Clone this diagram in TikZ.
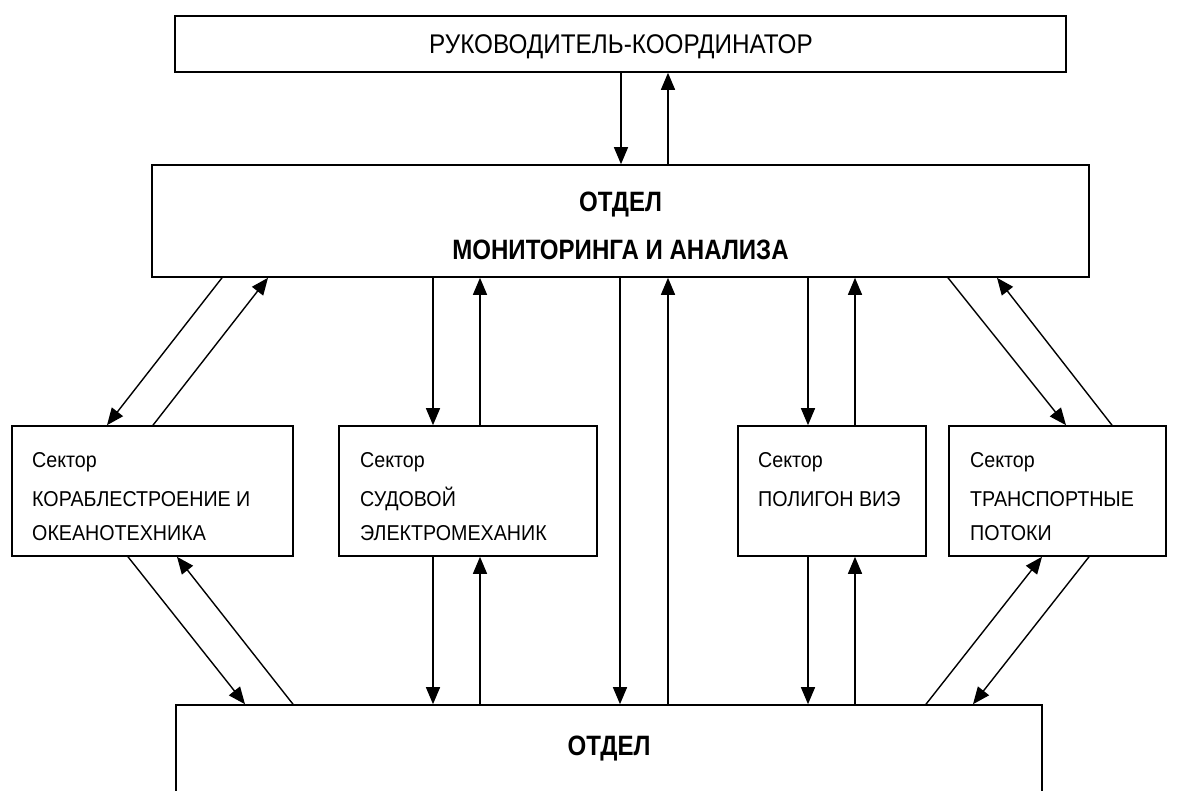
\documentclass[tikz,border=0pt]{standalone}
\usepackage{fontspec}
\setmainfont{Liberation Sans}
\newfontfamily\topf{Liberation Sans}[FakeStretch=0.9]
\newfontfamily\secf{Liberation Sans}[FakeStretch=0.915]
\newfontfamily\midf{Liberation Sans}[FakeStretch=0.86]
\usetikzlibrary{arrows.meta}
\begin{document}
\begin{tikzpicture}[x=1pt,y=-1pt,
  box/.style={draw,line width=1.6pt,inner sep=0pt,rectangle},
  sectxt/.style={anchor=base west,inner sep=0pt,font=\secf\fontsize{21.5}{24}\selectfont},
  boldtxt/.style={anchor=base,inner sep=0pt,font=\midf\fontsize{28}{30}\selectfont\bfseries},
  conn/.style={line width=1.4pt,-{Triangle[length=17pt,width=14pt]}}]
\useasboundingbox (0,0) rectangle (1178,791);
\clip (0,0) rectangle (1178,791);
\fill[white] (0,0) rectangle (1178,791);
% boxes
\node[box,minimum width=891pt,minimum height=56pt] (top) at (620.5,44) {};
\node[box,minimum width=937pt,minimum height=112pt] (mid) at (620.5,221) {};
\node[box,minimum width=281pt,minimum height=130pt] (s1) at (152.5,491) {};
\node[box,minimum width=258pt,minimum height=130pt] (s2) at (468,491) {};
\node[box,minimum width=188pt,minimum height=130pt] (s3) at (832,491) {};
\node[box,minimum width=217pt,minimum height=130pt] (s4) at (1057.5,491) {};
\node[box,minimum width=866pt,minimum height=140pt] (bot) at (609,775) {};
% texts
\node[anchor=base,inner sep=0pt,font=\topf\fontsize{27}{30}\selectfont] (ttop) at (621,54) {РУКОВОДИТЕЛЬ-КООРДИНАТОР};
\node[boldtxt] (tmid1) at (620.5,212) {ОТДЕЛ};
\node[boldtxt] (tmid2) at (620.5,260) {МОНИТОРИНГА И АНАЛИЗА};
\node[boldtxt] (tbot) at (609,755) {ОТДЕЛ};
\node[sectxt] (a1) at (32,467) {Сектор};
\node[sectxt] (a2) at (32,506) {КОРАБЛЕСТРОЕНИЕ И};
\node[sectxt] (a3) at (32,540) {ОКЕАНОТЕХНИКА};
\node[sectxt] (b1) at (360,467) {Сектор};
\node[sectxt] (b2) at (360,506) {СУДОВОЙ};
\node[sectxt] (b3) at (360,540) {ЭЛЕКТРОМЕХАНИК};
\node[sectxt] (c1) at (758,467) {Сектор};
\node[sectxt] (c2) at (758,506) {ПОЛИГОН ВИЭ};
\node[sectxt] (d1) at (970,467) {Сектор};
\node[sectxt] (d2) at (970,506) {ТРАНСПОРТНЫЕ};
\node[sectxt] (d3) at (970,540) {ПОТОКИ};
% connectors top-mid
\draw[conn] (top.south -| 621,0) -- (mid.north -| 621,0);
\draw[conn] (mid.north -| 668,0) -- (top.south -| 668,0);
% mid - sectors
\draw[conn] (mid.south -| 222,0) -- (s1.north -| 107,0);
\draw[conn] (s1.north -| 153,0) -- (mid.south -| 268,0);
\draw[conn] (mid.south -| 433,0) -- (s2.north -| 433,0);
\draw[conn] (s2.north -| 480,0) -- (mid.south -| 480,0);
\draw[conn] (mid.south -| 620,0) -- (bot.north -| 620,0);
\draw[conn] (bot.north -| 668,0) -- (mid.south -| 668,0);
\draw[conn] (mid.south -| 808,0) -- (s3.north -| 808,0);
\draw[conn] (s3.north -| 855,0) -- (mid.south -| 855,0);
\draw[conn] (mid.south -| 948,0) -- (s4.north -| 1066,0);
\draw[conn] (s4.north -| 1112,0) -- (mid.south -| 997,0);
% sectors - bottom
\draw[conn] (s1.south -| 128,0) -- (bot.north -| 245,0);
\draw[conn] (bot.north -| 293,0) -- (s1.south -| 177,0);
\draw[conn] (s2.south -| 433,0) -- (bot.north -| 433,0);
\draw[conn] (bot.north -| 480,0) -- (s2.south -| 480,0);
\draw[conn] (s3.south -| 808,0) -- (bot.north -| 808,0);
\draw[conn] (bot.north -| 855,0) -- (s3.south -| 855,0);
\draw[conn] (s4.south -| 1089,0) -- (bot.north -| 973,0);
\draw[conn] (bot.north -| 926,0) -- (s4.south -| 1042,0);
\end{tikzpicture}
\end{document}
